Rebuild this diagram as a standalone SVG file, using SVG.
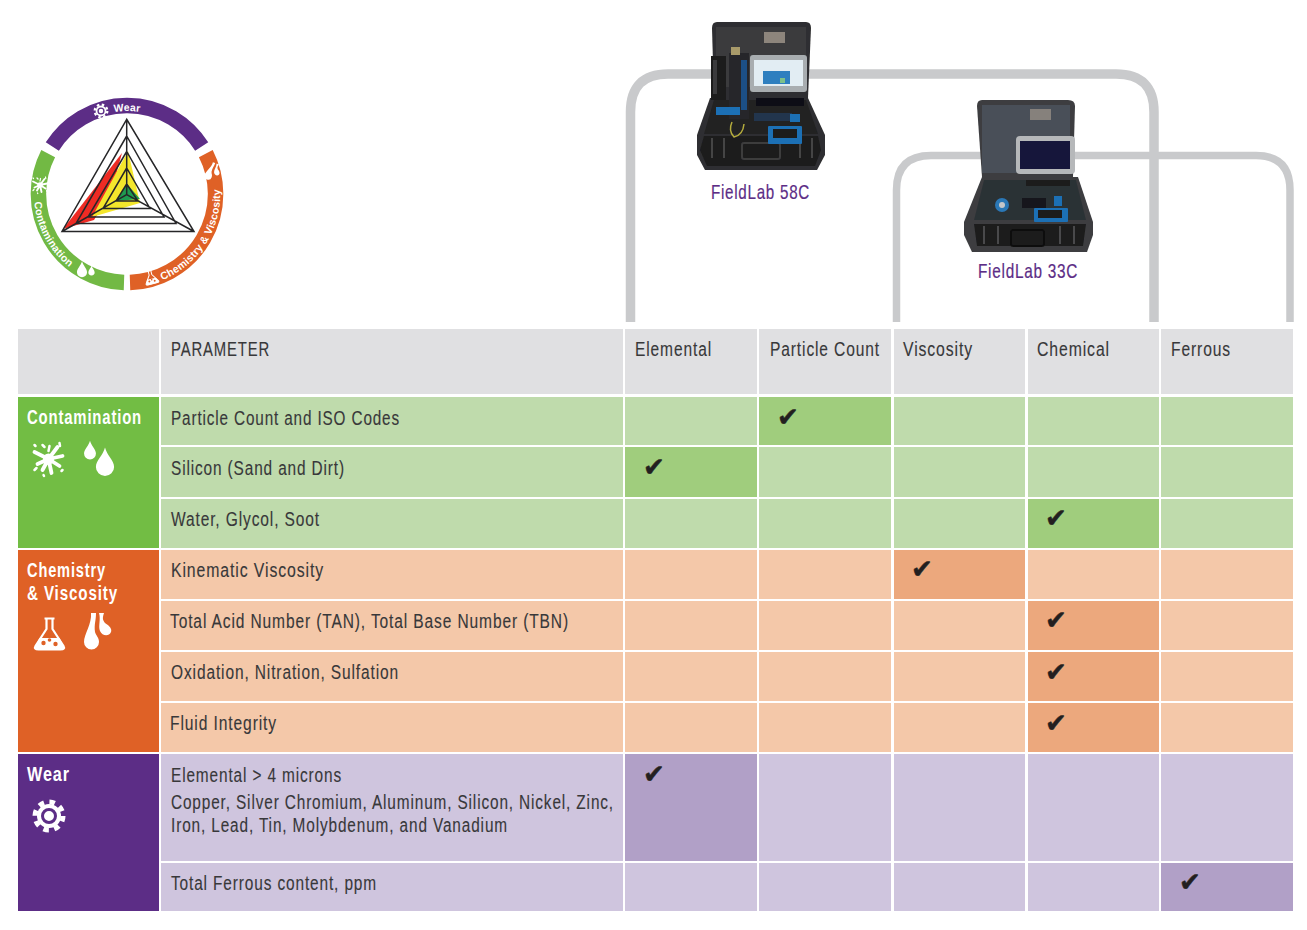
<svg xmlns="http://www.w3.org/2000/svg" xmlns:xlink="http://www.w3.org/1999/xlink" width="1307" height="930" viewBox="0 0 1307 930">
<style>
text{font-family:"Liberation Sans",Arial,sans-serif}
.t,.h{font-size:19.5px;letter-spacing:1.1px;fill:#38383a;stroke:#38383a;stroke-width:.12}
.c{font-size:19.5px;letter-spacing:1.1px;font-weight:700;fill:#fff}
.f{font-size:21px;letter-spacing:1px;fill:#5c2d86;stroke:#5c2d86;stroke-width:.2}
.r{font-size:10.5px;letter-spacing:.2px;font-weight:700;fill:#fff}
.k{font-family:"DejaVu Sans",sans-serif;font-size:26px;fill:#231f20;stroke:#231f20;stroke-width:.5}
.g{fill:#e0e0e2}.lg{fill:#bfdbac}.dg{fill:#a0cd7d}.lo{fill:#f4c8a9}.do{fill:#eca87d}.lp{fill:#cfc5de}.dp{fill:#b1a0c7}
.br{fill:none;stroke:#c9cacc}
.tri{fill:none;stroke:#262628;stroke-width:1.5}
.case{fill:#2f2f30}.case2{fill:#3d3e40}.dk{fill:#1c1c1e}.bl{fill:#1f6fb5}
</style>
<defs>
<filter id="soft" x="-5%" y="-5%" width="110%" height="110%"><feGaussianBlur stdDeviation=".6"/></filter>
<g id="gear"><circle r="12" fill="#fff"/><circle r="14" fill="none" stroke="#fff" stroke-width="5" stroke-dasharray="5.500 5.500"/><circle r="6.500" fill="none" stroke="#5c2d86" stroke-width="3"/></g>
<path id="drop" d="M0-12C1.500-6 7-2 7 3A7 7 0 1 1-7 3C-7-2-1.500-6 0-12Z" fill="#fff"/>
<g id="splat" fill="#fff" stroke="#fff" stroke-linecap="round">
<circle cx="0" cy="0" r="5.500" stroke="none"/>
<path d="M0 0L-14-7M0 0L-11 5M0 0L-6 11M0 0L3 14M0 0L11 7M0 0L14-3M0 0L9-12" stroke-width="3.800"/>
<path d="M-14-14l1 1M-6-14l2 2M11-16l.5 3M-14 11l2-2M14 11l-1 1M-5 16l.5 1M0-8l1-5" stroke-width="2.500"/>
</g>
<g id="flask"><path d="M-5-15.500H5M-3-15.500V-5L-14 12Q-16 15.500-11 15.500H11Q16 15.500 14 12L3-5V-15.500" fill="none" stroke="#fff" stroke-width="2.200"/><path d="M-10 4H10L14 12Q16 16 11 16H-11Q-16 16-14 12Z" fill="#fff"/><circle cx="-6" cy="9" r="2.200" fill="#df6126"/><circle cx="0" cy="6" r="1.800" fill="#df6126"/><circle cx="6" cy="10" r="2.200" fill="#df6126"/></g>
<g id="visc" fill="#fff"><path d="M-5-19H0C0-11-2-8-1 0C0 4 3 5 3 10A7.500 7.500 0 0 1-12 10C-12 2-4-8-5-19Z"/><path d="M3-19H8C6-13 7-12 9-9C14-6 16-3 15 0C13 5 6 4 4-1C2-6 5-12 3-19Z"/></g>
</defs>

<g id="connectors">
<path class="br" stroke-width="9.500" d="M630.500 322V112Q630.500 74 668 74H1116Q1154 74 1154 112V322"/>
<path class="br" stroke-width="7.500" d="M896.500 322V190Q896.500 155.500 931 155.500H1256Q1290 155.500 1290 190V322"/>
</g>

<g id="radar">
<path d="M52.300 146.500A88.500 88.500 0 0 1 201.700 146.500" fill="none" stroke="#5c2d86" stroke-width="15.500"/>
<path d="M48.200 153.600A88.500 88.500 0 0 0 124 282.500" fill="none" stroke="#72b944" stroke-width="15.500"/>
<path d="M130 282.500A88.500 88.500 0 0 0 205.800 153.600" fill="none" stroke="#df6126" stroke-width="15.500"/>
<path d="M122 153L63 229L94 220L112 190Z" fill="#ee2b24"/>
<path d="M128 151L140 203L92 217Z" fill="#f4e62c"/>
<path d="M127 184L140 199L116 201Z" fill="#1f9b50"/>
<path class="tri" d="M126.700 119.300L62 231.500H194ZM126.700 136L76 223.500H176ZM126.700 151.500L88 217H164ZM126.700 168L103 208.500H150ZM126.700 184L116 201H138ZM126.700 119.300V194.500M62 231.500L126.700 194.500L194 231.500"/>
<path id="rw" d="M44 194A83 83 0 0 1 210 194" fill="none"/>
<path id="rc" d="M34 194A93 93 0 0 0 127 287" fill="none"/>
<path id="ro" d="M127 287A93 93 0 0 0 205 143" fill="none"/>
<text class="r"><textPath xlink:href="#rw" href="#rw" startOffset="117">Wear</textPath></text>
<text class="r"><textPath xlink:href="#rc" href="#rc" startOffset="8">Contamination</textPath></text>
<text class="r"><textPath xlink:href="#ro" href="#ro" startOffset="36">Chemistry &amp; Viscosity</textPath></text>
<use href="#gear" transform="translate(101 111) scale(.45)"/>
<use href="#splat" transform="translate(40 185) scale(.5)"/>
<use href="#drop" transform="translate(82 270) scale(.72)"/>
<use href="#drop" transform="translate(91.500 271) scale(.45)"/>
<use href="#flask" transform="translate(151 277) rotate(-14) scale(.45)"/>
<use href="#visc" transform="translate(212 172) rotate(20) scale(.5)"/>
</g>

<g id="fieldlab-58c" filter="url(#soft)">
<path class="case" d="M717 22H806Q811 22 811 28L808 98H714L712 28Q712 22 717 22Z"/>
<rect x="716" y="27" width="90" height="60" fill="#3a3b3d"/>
<rect x="764" y="32" width="21" height="11" fill="#8d857c"/>
<path class="case" d="M710 98H808L825 135V155L817 170H705L697 155V135Z"/>
<path d="M714 100H806L818 134H704Z" fill="#202124"/>
<path class="dk" d="M704 136H818L821 150L815 166H707L700 150Z"/>
<path d="M712 138V158M724 138V158M800 138V158M812 138V158" stroke="#444" stroke-width="2"/>
<rect x="742" y="143" width="38" height="16" rx="2" fill="none" stroke="#3c3c3e" stroke-width="2"/>
<rect x="711" y="56" width="15" height="44" class="dk"/>
<rect x="713" y="60" width="4" height="34" fill="#3a3a3c"/>
<rect x="729" y="53" width="20" height="66" fill="#25262a"/>
<rect x="731" y="47" width="9" height="8" fill="#a89a6a"/>
<rect x="741" y="60" width="6" height="50" fill="#1a4f86"/>
<rect x="716" y="107" width="24" height="8" class="bl"/>
<path d="M732 122Q728 131 734 137Q743 135 744 124" fill="none" stroke="#b5ac3c" stroke-width="1.500"/>
<rect x="750" y="55" width="57" height="37" rx="3" fill="#a8adb0"/>
<rect x="754" y="60" width="49" height="26" fill="#e2edf3"/>
<rect x="763" y="71" width="27" height="13" fill="#2f7fbf"/>
<rect x="780" y="78" width="5" height="5" fill="#7cc08a"/>
<rect x="756" y="98" width="48" height="8" fill="#111114"/>
<rect x="754" y="113" width="38" height="8" fill="#24354d"/>
<rect x="768" y="126" width="34" height="18" rx="1" class="bl"/>
<rect x="773" y="129" width="24" height="9" class="dk"/>
<rect x="790" y="114" width="10" height="8" class="bl"/>
</g>
<text class="f" x="711" y="199" textLength="99" lengthAdjust="spacingAndGlyphs">FieldLab 58C</text>

<g id="fieldlab-33c" filter="url(#soft)">
<path class="case2" d="M982 100H1068Q1075 100 1075 106L1073 177H982L977 106Q977 100 982 100Z"/>
<rect x="982" y="105" width="88" height="68" fill="#4a5058"/>
<rect x="1030" y="109" width="21" height="11" fill="#86817c"/>
<path class="case2" d="M982 177H1078L1093 222V235L1087 252H972L964 235V222Z"/>
<path d="M984 180H1076L1086 220H974Z" fill="#2c3036"/>
<rect x="1016" y="136" width="59" height="38" rx="4" fill="#b6b8ba"/>
<rect x="1020" y="141" width="50" height="28" fill="#14183a"/>
<path class="dk" d="M974 224H1086L1083 246H977Z"/>
<path d="M984 226V244M998 226V244M1060 226V244M1074 226V244" stroke="#4a4a4c" stroke-width="2"/>
<rect x="1011" y="230" width="33" height="16" rx="2" fill="none" stroke="#111" stroke-width="2"/>
<circle cx="1002" cy="205" r="7" fill="#2a78b6"/><circle cx="1002" cy="205" r="3" fill="#c4c6c8"/>
<rect x="1022" y="198" width="24" height="10" fill="#17181c"/>
<rect x="1034" y="208" width="34" height="14" rx="1" class="bl"/>
<rect x="1038" y="210" width="24" height="8" class="dk"/>
<rect x="1054" y="196" width="8" height="10" class="bl"/>
<rect x="1026" y="180" width="44" height="6" class="dk"/>
</g>
<text class="f" x="978" y="278" textLength="100" lengthAdjust="spacingAndGlyphs">FieldLab 33C</text>

<g id="header">
<rect class="g" x="18" y="329" width="141" height="65"/><rect class="g" x="161" y="329" width="462" height="65"/>
<rect class="g" x="625" y="329" width="132" height="65"/><rect class="g" x="759" y="329" width="132" height="65"/><rect class="g" x="894" y="329" width="131" height="65"/><rect class="g" x="1028" y="329" width="131" height="65"/><rect class="g" x="1161" y="329" width="132" height="65"/>
<text class="h" x="171" y="356" textLength="99" lengthAdjust="spacingAndGlyphs">PARAMETER</text>
<text class="h" x="635" y="356" textLength="77" lengthAdjust="spacingAndGlyphs">Elemental</text>
<text class="h" x="770" y="356" textLength="110" lengthAdjust="spacingAndGlyphs">Particle Count</text>
<text class="h" x="903" y="356" textLength="70" lengthAdjust="spacingAndGlyphs">Viscosity</text>
<text class="h" x="1037" y="356" textLength="73" lengthAdjust="spacingAndGlyphs">Chemical</text>
<text class="h" x="1171" y="356" textLength="60" lengthAdjust="spacingAndGlyphs">Ferrous</text>
</g>

<g id="contamination">
<rect x="18" y="397" width="141" height="151" fill="#72bd44"/>
<text class="c" x="27" y="424" textLength="115" lengthAdjust="spacingAndGlyphs">Contamination</text>
<use href="#splat" transform="translate(48.500 459)"/>
<use href="#drop" transform="translate(90 451) scale(.85)"/>
<use href="#drop" transform="translate(105 463) scale(1.300)"/>
<rect class="lg" x="161" y="397" width="462" height="48"/><rect class="lg" x="625" y="397" width="132" height="48"/><rect class="dg" x="759" y="397" width="132" height="48"/><rect class="lg" x="894" y="397" width="131" height="48"/><rect class="lg" x="1028" y="397" width="131" height="48"/><rect class="lg" x="1161" y="397" width="132" height="48"/>
<rect class="lg" x="161" y="447" width="462" height="50"/><rect class="dg" x="625" y="447" width="132" height="50"/><rect class="lg" x="759" y="447" width="132" height="50"/><rect class="lg" x="894" y="447" width="131" height="50"/><rect class="lg" x="1028" y="447" width="131" height="50"/><rect class="lg" x="1161" y="447" width="132" height="50"/>
<rect class="lg" x="161" y="499" width="462" height="49"/><rect class="lg" x="625" y="499" width="132" height="49"/><rect class="lg" x="759" y="499" width="132" height="49"/><rect class="lg" x="894" y="499" width="131" height="49"/><rect class="dg" x="1028" y="499" width="131" height="49"/><rect class="lg" x="1161" y="499" width="132" height="49"/>
<text class="t" x="171" y="425" textLength="229" lengthAdjust="spacingAndGlyphs">Particle Count and ISO Codes</text>
<text class="t" x="171" y="475" textLength="174" lengthAdjust="spacingAndGlyphs">Silicon (Sand and Dirt)</text>
<text class="t" x="171" y="526" textLength="149" lengthAdjust="spacingAndGlyphs">Water, Glycol, Soot</text>
<text class="k" x="777" y="426">✔</text><text class="k" x="643" y="476">✔</text><text class="k" x="1045" y="527">✔</text>
</g>

<g id="chemistry-viscosity">
<rect x="18" y="550" width="141" height="202" fill="#df6126"/>
<text class="c" x="27" y="577" textLength="79" lengthAdjust="spacingAndGlyphs">Chemistry</text>
<text class="c" x="27" y="600" textLength="91" lengthAdjust="spacingAndGlyphs">&amp; Viscosity</text>
<use href="#flask" transform="translate(49.500 634)"/>
<use href="#visc" transform="translate(96 632)"/>
<rect class="lo" x="161" y="550" width="462" height="49"/><rect class="lo" x="625" y="550" width="132" height="49"/><rect class="lo" x="759" y="550" width="132" height="49"/><rect class="do" x="894" y="550" width="131" height="49"/><rect class="lo" x="1028" y="550" width="131" height="49"/><rect class="lo" x="1161" y="550" width="132" height="49"/>
<rect class="lo" x="161" y="601" width="462" height="49"/><rect class="lo" x="625" y="601" width="132" height="49"/><rect class="lo" x="759" y="601" width="132" height="49"/><rect class="lo" x="894" y="601" width="131" height="49"/><rect class="do" x="1028" y="601" width="131" height="49"/><rect class="lo" x="1161" y="601" width="132" height="49"/>
<rect class="lo" x="161" y="652" width="462" height="49"/><rect class="lo" x="625" y="652" width="132" height="49"/><rect class="lo" x="759" y="652" width="132" height="49"/><rect class="lo" x="894" y="652" width="131" height="49"/><rect class="do" x="1028" y="652" width="131" height="49"/><rect class="lo" x="1161" y="652" width="132" height="49"/>
<rect class="lo" x="161" y="703" width="462" height="49"/><rect class="lo" x="625" y="703" width="132" height="49"/><rect class="lo" x="759" y="703" width="132" height="49"/><rect class="lo" x="894" y="703" width="131" height="49"/><rect class="do" x="1028" y="703" width="131" height="49"/><rect class="lo" x="1161" y="703" width="132" height="49"/>
<text class="t" x="171" y="577" textLength="153" lengthAdjust="spacingAndGlyphs">Kinematic Viscosity</text>
<text class="t" x="170" y="628" textLength="399" lengthAdjust="spacingAndGlyphs">Total Acid Number (TAN), Total Base Number (TBN)</text>
<text class="t" x="171" y="679" textLength="228" lengthAdjust="spacingAndGlyphs">Oxidation, Nitration, Sulfation</text>
<text class="t" x="170" y="730" textLength="107" lengthAdjust="spacingAndGlyphs">Fluid Integrity</text>
<text class="k" x="911" y="578">✔</text><text class="k" x="1045" y="629">✔</text><text class="k" x="1045" y="681">✔</text><text class="k" x="1045" y="732">✔</text>
</g>

<g id="wear">
<rect x="18" y="754" width="141" height="157" fill="#5c2d86"/>
<text class="c" x="27" y="781" textLength="43" lengthAdjust="spacingAndGlyphs">Wear</text>
<use href="#gear" transform="translate(49 816)"/>
<rect class="lp" x="161" y="754" width="462" height="107"/><rect class="dp" x="625" y="754" width="132" height="107"/><rect class="lp" x="759" y="754" width="132" height="107"/><rect class="lp" x="894" y="754" width="131" height="107"/><rect class="lp" x="1028" y="754" width="131" height="107"/><rect class="lp" x="1161" y="754" width="132" height="107"/>
<rect class="lp" x="161" y="863" width="462" height="48"/><rect class="lp" x="625" y="863" width="132" height="48"/><rect class="lp" x="759" y="863" width="132" height="48"/><rect class="lp" x="894" y="863" width="131" height="48"/><rect class="lp" x="1028" y="863" width="131" height="48"/><rect class="dp" x="1161" y="863" width="132" height="48"/>
<text class="t" x="171" y="782" textLength="171" lengthAdjust="spacingAndGlyphs">Elemental &gt; 4 microns</text>
<text class="t" x="171" y="809" textLength="443" lengthAdjust="spacingAndGlyphs">Copper, Silver Chromium, Aluminum, Silicon, Nickel, Zinc,</text>
<text class="t" x="171" y="832" textLength="337" lengthAdjust="spacingAndGlyphs">Iron, Lead, Tin, Molybdenum, and Vanadium</text>
<text class="t" x="171" y="890" textLength="206" lengthAdjust="spacingAndGlyphs">Total Ferrous content, ppm</text>
<text class="k" x="643" y="783">✔</text><text class="k" x="1179" y="891">✔</text>
</g>
</svg>
